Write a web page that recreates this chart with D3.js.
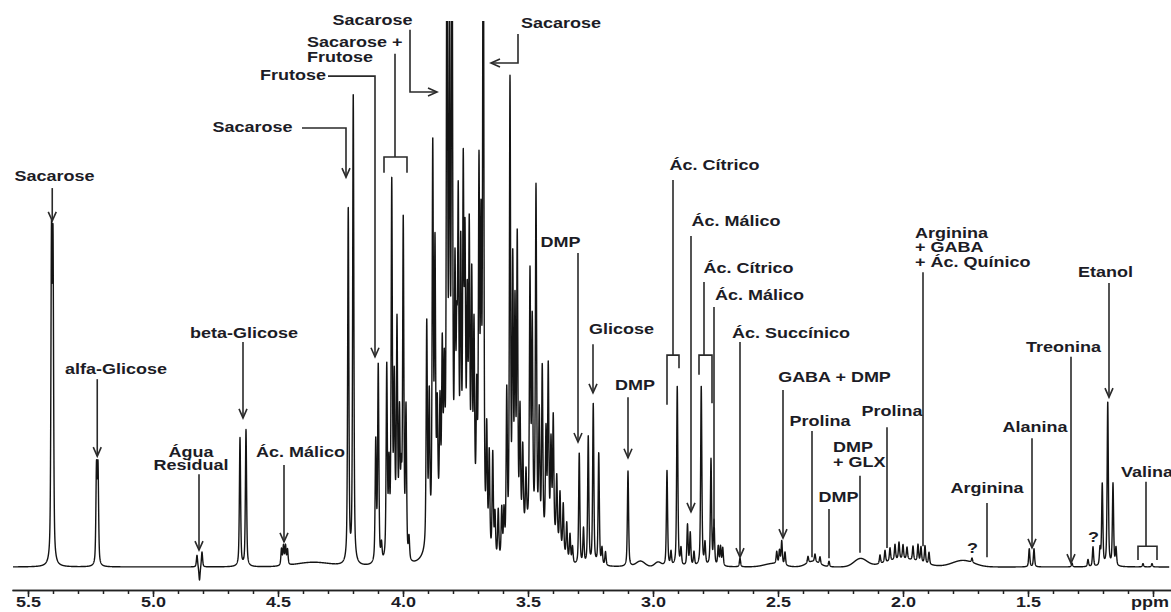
<!DOCTYPE html>
<html lang="pt">
<head>
<meta charset="UTF-8"/>
<title>Espectro de RMN de 1H</title>
<script src="https://d3js.org/d3.v7.min.js"></script>
<style>
  body { margin: 0; background: #fff; }
  svg text {
    font-family: "Liberation Sans", Arial, sans-serif;
    font-weight: bold;
    font-size: 15px;
    fill: #1c1c26;
  }
</style>
</head>
<body>
<script>
var w = 1171;
var h = 612;

// sharp resonances: shift (ppm) and height (100 = top of plot)
var lineShift = [
  5.406, 5.400, 5.226, 5.220, 4.824, 4.814, 4.804, 4.652, 4.628,
  4.486, 4.478, 4.470, 4.462,
  4.219, 4.199, 4.109, 4.099, 4.086, 4.065, 4.056, 4.045, 4.035, 4.024, 4.014, 4.007, 3.999, 3.988, 3.976,
  3.905, 3.895, 3.881, 3.872, 3.863, 3.852, 3.843, 3.835, 3.824, 3.814, 3.804,
  3.792, 3.785, 3.779, 3.769, 3.759, 3.752, 3.743, 3.735, 3.725, 3.716, 3.705, 3.696, 3.688, 3.679,
  3.665, 3.655, 3.641, 3.632, 3.619, 3.605, 3.596,
  3.585, 3.572, 3.561, 3.552, 3.543, 3.532, 3.521, 3.508,
  3.492, 3.483, 3.468, 3.455, 3.443, 3.428, 3.419, 3.408, 3.399, 3.385, 3.372, 3.359, 3.345, 3.332, 3.322,
  3.295, 3.278, 3.259, 3.239, 3.217, 3.204, 3.190,
  3.100, 2.944, 2.928, 2.903, 2.888, 2.862, 2.851, 2.836, 2.807, 2.792, 2.768, 2.756, 2.739, 2.730, 2.721,
  2.652, 2.505, 2.494, 2.485, 2.472, 2.380, 2.352, 2.332, 2.296,
  2.092, 2.072, 2.052, 2.032, 2.016, 2.000, 1.984, 1.960, 1.940, 1.928, 1.912, 1.896,
  1.724, 1.495, 1.476, 1.324, 1.260, 1.240, 1.212, 1.203, 1.181, 1.160, 1.148, 1.040, 1.004
];
var lineHeight = [
  57, 56, 17.5, 17.5, 2.2, -2.6, 2.8, 23.5, 25,
  3.0, 3.5, 3.5, 2.8,
  65, 86, 22, 36, 3, 35, 15, 66, 28, 39, 23, 12, 61, 27, 4,
  41, 26, 70, 50, 20, 20, 29, 23, 120, 82, 120,
  40, 26, 53, 45, 59, 45, 35, 49, 41, 33, 22, 64, 52, 130,
  21, 18, 19, 8, 9, 9, 8,
  29, 85, 50, 41, 54, 22, 15, 10,
  46, 37, 63, 22, 31, 19, 31, 17, 22, 12, 10, 9, 6.5, 5, 3,
  20.5, 6.5, 23.5, 29.5, 20.5, 3, 2.5,
  17.5, 17.5, 2.5, 33, 3, 7.5, 6, 2.5, 33, 4, 19.5, 8, 3.5, 3.5, 3.3,
  1.6, 2.2, 2.5, 4.3, 2.4, 1.2, 1.4, 1.3, 1.0,
  1.6, 2.2, 2.4, 2.8, 3.1, 2.6, 2.2, 2.6, 3.1, 2.8, 3.2, 2.2,
  0.8, 3.3, 3.3, 0.7, 1.3, 3.6, 3, 15, 30, 15, 3.2, 0.6, 0.6
];

// broad envelopes under the crowded sugar region and the aliphatic part
var humpShift  = [4.36, 4.03, 3.82, 3.73, 3.50, 3.40, 3.05, 2.98, 2.52, 2.36, 2.17, 2.00, 1.76];
var humpHeight = [0.8, 4, 9, 7, 6, 4, 1.0, 0.8, 0.6, 1.0, 1.5, 1.4, 1.2];
var humpWidth  = [0.08, 0.02, 0.06, 0.04, 0.05, 0.04, 0.02, 0.015, 0.04, 0.03, 0.03, 0.08, 0.05];

var tickShifts = [5.5, 5.0, 4.5, 4.0, 3.5, 3.0, 2.5, 2.0, 1.5, 1.0];
var tickLabels = ["5.5", "5.0", "4.5", "4.0", "3.5", "3.0", "2.5", "2.0", "1.5", "ppm"];

// assignments: text position and leader geometry in ppm / intensity units
var annotations = [
  {text: ["Sacarose"], tx: 5.394, ty: 70.7, kind: "arrow", lx: 5.403, ly1: 69.4, ly2: 63.4},
  {text: ["alfa-Glicose"], tx: 5.148, ty: 35.3, kind: "arrow", lx: 5.223, ly1: 34.4, ly2: 20.3},
  {text: ["beta-Glicose"], tx: 4.636, ty: 41.9, kind: "arrow", lx: 4.640, ly1: 41.2, ly2: 27.3},
  {text: ["Água", "Residual"], tx: 4.848, ty: 20.1, gap: 13, kind: "arrow", lx: 4.816, ly1: 17.0, ly2: 3.1},
  {text: ["Ác. Málico"], tx: 4.410, ty: 20.1, kind: "arrow", lx: 4.476, ly1: 18.7, ly2: 4.6},
  {text: ["Sacarose"], tx: 4.602, ty: 79.7, kind: "hook", hx: 4.404, hy: 80.4, lx: 4.228, ly2: 71.4},
  {text: ["Frutose"], tx: 4.440, ty: 89.2, kind: "hook", hx: 4.300, hy: 89.9, lx: 4.112, ly2: 38.5},
  {text: ["Sacarose +", "Frutose"], tx: 4.384, ty: 95.2, anchor: "start", gap: 15, kind: "bracket",
    lx: 4.032, ly1: 94.0, ly2: 75.1, bx1: 4.076, bx2: 3.984, leg1: 72.2, leg2: 72.2},
  {text: ["Sacarose"], tx: 4.122, ty: 99.3, kind: "side", hx: 3.972, ly1: 98.4, hy: 87.0, lx: 3.864},
  {text: ["Sacarose"], tx: 3.368, ty: 98.7, kind: "side", hx: 3.540, ly1: 97.6, hy: 92.3, lx: 3.648},
  {text: ["DMP"], tx: 3.370, ty: 58.6, kind: "arrow", lx: 3.300, ly1: 57.5, ly2: 22.9},
  {text: ["Glicose"], tx: 3.126, ty: 42.7, kind: "arrow", lx: 3.240, ly1: 40.8, ly2: 31.9},
  {text: ["DMP"], tx: 3.072, ty: 32.4, kind: "arrow", lx: 3.100, ly1: 31.1, ly2: 20.0},
  {text: ["Ác. Cítrico"], tx: 2.754, ty: 72.7, kind: "bracket",
    lx: 2.920, ly1: 70.9, ly2: 38.8, bx1: 2.944, bx2: 2.896, leg1: 29.7, leg2: 36.4},
  {text: ["Ác. Málico"], tx: 2.668, ty: 62.5, kind: "arrow", lx: 2.848, ly1: 60.6, ly2: 10.1},
  {text: ["Ác. Cítrico"], tx: 2.618, ty: 53.8, kind: "bracket",
    lx: 2.796, ly1: 52.2, ly2: 38.8, bx1: 2.816, bx2: 2.764, leg1: 35.2, leg2: 30.0},
  {text: ["Ác. Málico"], tx: 2.574, ty: 48.9, kind: "line", lx: 2.756, ly1: 47.6, ly2: 7.3},
  {text: ["Ác. Succínico"], tx: 2.448, ty: 41.9, kind: "arrow", lx: 2.652, ly1: 41.2, ly2: 1.8},
  {text: ["GABA + DMP"], tx: 2.274, ty: 33.9, kind: "arrow", lx: 2.480, ly1: 32.4, ly2: 5.3},
  {text: ["Prolina"], tx: 2.332, ty: 25.8, kind: "line", lx: 2.364, ly1: 24.9, ly2: 1.8},
  {text: ["DMP", "+ GLX"], tx: 2.280, ty: 21.1, anchor: "start", gap: 15, kind: "line", lx: 2.172, ly1: 16.7, ly2: 2.6},
  {text: ["DMP"], tx: 2.258, ty: 11.9, kind: "line", lx: 2.296, ly1: 10.6, ly2: 1.6},
  {text: ["Prolina"], tx: 2.044, ty: 27.7, kind: "line", lx: 2.064, ly1: 25.6, ly2: 3.5},
  {text: ["Arginina", "+ GABA", "+ Ác. Quínico"], tx: 1.952, ty: 60.3, anchor: "start", gap: 14.5,
    kind: "line", lx: 1.920, ly1: 54.0, ly2: 3.8},
  {text: ["Etanol"], tx: 1.190, ty: 53.1, kind: "arrow", lx: 1.176, ly1: 52.0, ly2: 31.1},
  {text: ["Treonina"], tx: 1.358, ty: 39.4, kind: "arrow", lx: 1.328, ly1: 38.5, ly2: 0.7},
  {text: ["Alanina"], tx: 1.472, ty: 24.7, kind: "arrow", lx: 1.484, ly1: 23.6, ly2: 3.5},
  {text: ["Arginina"], tx: 1.664, ty: 13.6, kind: "line", lx: 1.664, ly1: 11.7, ly2: 1.8},
  {text: ["?"], tx: 1.722, ty: 2.6, kind: "none"},
  {text: ["?"], tx: 1.238, ty: 4.6, kind: "none"},
  {text: ["Valina"], tx: 1.128, ty: 16.5, anchor: "start", kind: "bracket",
    lx: 1.028, ly1: 15.6, ly2: 3.8, bx1: 1.060, bx2: 0.984, leg1: 1.3, leg2: 1.3}
];

var xScale = d3.scaleLinear().domain([5.564, 0.928]).range([12, 1171]);
var yScale = d3.scaleLinear().domain([0, 100]).range([567, 21]);

// pseudo-Voigt line shape
var gam = 0.0028, eta = 0.55;
function intensity(p) {
  var s = 0;
  for (var i = 0; i < lineShift.length; i++) {
    var d = (p - lineShift[i]) / gam;
    s += lineHeight[i] * (eta / (1 + d * d) + (1 - eta) * Math.exp(-0.693 * d * d));
  }
  for (var j = 0; j < humpShift.length; j++) {
    var e = (p - humpShift[j]) / humpWidth[j];
    s += humpHeight[j] * Math.exp(-0.693 * e * e);
  }
  return s;
}

var spectrum = d3.range(5.560, 0.935, -0.0004).map(function (p) {
  return [p, intensity(p)];
});

var svg = d3.select("body").append("svg")
  .attr("width", w)
  .attr("height", h);

svg.append("clipPath").attr("id", "plotclip")
  .append("rect")
  .attr("x", 0).attr("y", yScale(100))
  .attr("width", w).attr("height", h);

svg.append("path")
  .datum(spectrum)
  .attr("clip-path", "url(#plotclip)")
  .attr("fill", "none")
  .attr("stroke", "#141414")
  .attr("stroke-width", 1.4)
  .attr("stroke-linejoin", "round")
  .attr("d", d3.line()
    .x(function (d) { return xScale(d[0]); })
    .y(function (d) { return yScale(d[1]); }));

// axis: minor ticks every 0.1 ppm, major every 0.5 ppm
var axisY = 590;
var minorAxis = d3.axisBottom(xScale)
  .tickValues(d3.range(55, 9, -1).map(function (v) { return v / 10; }))
  .tickSize(4).tickSizeOuter(0).tickFormat("");
var majorAxis = d3.axisBottom(xScale)
  .tickValues(tickShifts)
  .tickSize(7).tickSizeOuter(0)
  .tickFormat(function (d, i) { return tickLabels[i]; });

svg.append("g").attr("transform", "translate(0," + axisY + ")").call(minorAxis);
var gx = svg.append("g").attr("transform", "translate(0," + axisY + ")").call(majorAxis);
svg.selectAll(".domain, .tick line").attr("stroke", "#222").attr("stroke-width", 1.5);
gx.selectAll(".tick text")
  .attr("y", 17).attr("dy", null)
  .attr("dx", function (d, i) { return i === tickLabels.length - 1 ? -3 : 0; })
  .attr("transform", "scale(1.2,1)");

// annotations
var lead = svg.append("g")
  .attr("fill", "none")
  .attr("stroke", "#2a2a2a")
  .attr("stroke-width", 1.6);

function headDown(x, y) {
  lead.append("path").attr("d", "M" + (x - 4) + "," + (y - 9) + "L" + x + "," + y + "L" + (x + 4) + "," + (y - 9));
}
function headSide(x, y, dir) {
  lead.append("path").attr("d", "M" + (x - 9 * dir) + "," + (y - 4) + "L" + x + "," + y + "L" + (x - 9 * dir) + "," + (y + 4));
}

annotations.forEach(function (a) {
  var t = svg.append("text")
    .attr("transform", "translate(" + xScale(a.tx) + "," + yScale(a.ty) + ") scale(1.2,1)")
    .attr("text-anchor", a.anchor || "middle");
  a.text.forEach(function (s, i) {
    t.append("tspan").attr("x", 0).attr("dy", i === 0 ? 0 : (a.gap || 14)).text(s);
  });

  var lx = xScale(a.lx);
  if (a.kind === "arrow" || a.kind === "line") {
    lead.append("line").attr("x1", lx).attr("x2", lx)
      .attr("y1", yScale(a.ly1)).attr("y2", yScale(a.ly2));
    if (a.kind === "arrow") headDown(lx, yScale(a.ly2));
  } else if (a.kind === "hook") {
    lead.append("path").attr("d", "M" + xScale(a.hx) + "," + yScale(a.hy) +
      "H" + lx + "V" + yScale(a.ly2));
    headDown(lx, yScale(a.ly2));
  } else if (a.kind === "side") {
    var hx = xScale(a.hx);
    lead.append("path").attr("d", "M" + hx + "," + yScale(a.ly1) +
      "V" + yScale(a.hy) + "H" + lx);
    headSide(lx, yScale(a.hy), lx > hx ? 1 : -1);
  } else if (a.kind === "bracket") {
    var by = yScale(a.ly2);
    lead.append("path").attr("d", "M" + lx + "," + yScale(a.ly1) + "V" + by +
      "M" + xScale(a.bx1) + "," + yScale(a.leg1) + "V" + by + "H" + xScale(a.bx2) + "V" + yScale(a.leg2));
  }
});
</script>
</body>
</html>
